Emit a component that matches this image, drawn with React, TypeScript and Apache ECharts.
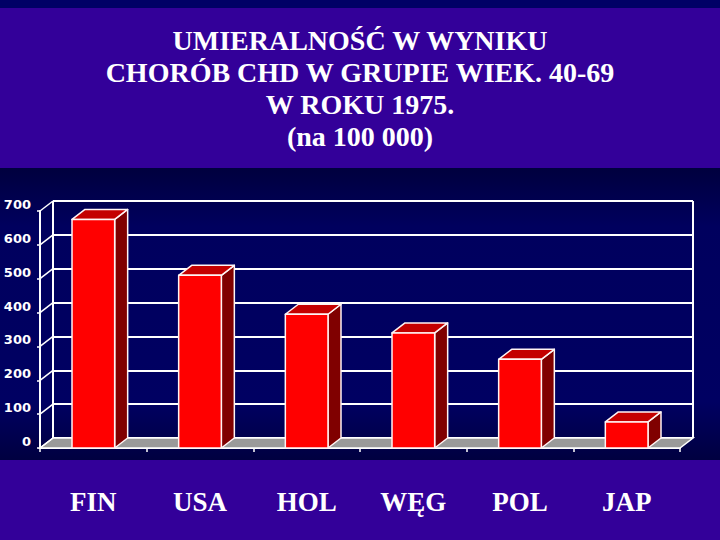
import React, { useEffect, useRef } from 'react';
import * as echarts from 'echarts';

const titleLines = ['UMIERALNOŚĆ W WYNIKU', 'CHORÓB CHD W GRUPIE WIEK. 40-69', 'W ROKU 1975.', '(na 100 000)'];
const categories = ['FIN', 'USA', 'HOL', 'WĘG', 'POL', 'JAP'];
const values = [675, 510, 395, 340, 262, 77];
const yTicks = [0, 100, 200, 300, 400, 500, 600, 700];

const DX = 13;
const DY = 10;

export default function App() {
  const ref = useRef<HTMLDivElement>(null);
  useEffect(() => {
    document.body.style.margin = '0';
    const chart = echarts.init(ref.current as HTMLDivElement, null, { renderer: 'svg' });
    const white = '#ffffff';
    const option: any = {
      animation: false,
      backgroundColor: '#330099',
      graphic: [
        { type: 'rect', z: -10, silent: true, shape: { x: 0, y: 0, width: 720, height: 8 }, style: { fill: '#000066' } },
        {
          type: 'rect', z: -10, silent: true,
          shape: { x: 0, y: 168, width: 720, height: 292 },
          style: {
            fill: new echarts.graphic.LinearGradient(0, 0, 0, 1, [
              { offset: 0, color: '#00003e' },
              { offset: 0.2, color: '#00005e' },
              { offset: 0.8, color: '#000062' },
              { offset: 1, color: '#000040' },
            ]),
          },
        },
        {
          type: 'text', z: 10, x: 360, y: 24,
          style: {
            text: titleLines.join('\n'),
            fill: white,
            font: 'bold 28px "Liberation Serif"',
            lineHeight: 32,
            align: 'center',
            verticalAlign: 'top',
          },
        },
      ],
      grid: [
        { left: 53, right: 27, top: 201, bottom: 102 },
        { left: 40, right: 40, top: 211, bottom: 92 },
      ],
      xAxis: [
        { gridIndex: 0, type: 'category', data: categories, show: false },
        {
          gridIndex: 1, type: 'category', data: categories,
          axisLine: { show: true, lineStyle: { color: white, width: 2 } },
          axisTick: { show: true, length: 4, lineStyle: { color: white, width: 1.5 } },
          axisLabel: {
            color: white, fontFamily: 'Liberation Serif', fontWeight: 'bold', fontSize: 27,
            margin: 54, verticalAlign: 'middle',
          },
        },
      ],
      yAxis: [
        {
          gridIndex: 0, type: 'value', min: 0, max: 700, interval: 100,
          axisLabel: { show: false }, axisLine: { show: false }, axisTick: { show: false },
          splitLine: { show: true, lineStyle: { color: white, width: 2 } },
        },
        {
          gridIndex: 1, type: 'value', min: 0, max: 700, interval: 100,
          axisLine: { show: true, lineStyle: { color: white, width: 2 } },
          axisTick: { show: true, length: 3, lineStyle: { color: white, width: 1.5 } },
          splitLine: { show: false },
          axisLabel: {
            color: white, fontFamily: 'DejaVu Sans', fontWeight: 'bold', fontSize: 13,
            margin: 9, verticalAlign: 'bottom', lineHeight: 13,
          },
        },
      ],
      series: [
        {
          type: 'custom', name: 'frame', xAxisIndex: 1, yAxisIndex: 1, z: 1, silent: true,
          data: [[0, 0]],
          renderItem: (params: any, api: any) => {
            const cs = params.coordSys;
            const x0 = cs.x, x1 = cs.x + cs.width, yt = cs.y, yb = cs.y + cs.height;
            const children: any[] = [];
            children.push({
              type: 'polygon',
              shape: { points: [[x0, yb], [x0 + DX, yb - DY], [x1 + DX, yb - DY], [x1, yb]] },
              style: { fill: '#9a9a9a', stroke: white, lineWidth: 1.5 },
            });
            yTicks.forEach((t) => {
              const p = api.coord([0, t]);
              children.push({
                type: 'line',
                shape: { x1: x0, y1: p[1], x2: x0 + DX, y2: p[1] - DY },
                style: { stroke: white, lineWidth: 1.5 },
              });
            });
            children.push({ type: 'line', shape: { x1: x0 + DX, y1: yt - DY, x2: x0 + DX, y2: yb - DY }, style: { stroke: white, lineWidth: 2 } });
            children.push({ type: 'line', shape: { x1: x1 + DX, y1: yt - DY, x2: x1 + DX, y2: yb - DY }, style: { stroke: white, lineWidth: 2 } });
            return { type: 'group', children };
          },
        },
        {
          type: 'custom', name: 'bars', xAxisIndex: 1, yAxisIndex: 1, z: 3,
          data: values.map((v, i) => [i, v]),
          renderItem: (params: any, api: any) => {
            const i = api.value(0);
            const v = api.value(1);
            const base = api.coord([i, 0]);
            const top = api.coord([i, v]);
            const bw = api.size([1, 0])[0] * 0.4;
            const l = base[0] - bw / 2;
            const r = l + bw;
            const t = top[1];
            const b = base[1];
            const st = { stroke: '#fff4f4', lineWidth: 1.5, lineJoin: 'round' };
            return {
              type: 'group',
              children: [
                { type: 'polygon', shape: { points: [[r, b], [r, t], [r + DX, t - DY], [r + DX, b - DY]] }, style: { ...st, fill: '#800000' } },
                { type: 'polygon', shape: { points: [[l, t], [l + DX, t - DY], [r + DX, t - DY], [r, t]] }, style: { ...st, fill: '#c40000' } },
                { type: 'rect', shape: { x: l, y: t, width: bw, height: b - t }, style: { ...st, fill: '#ff0000' } },
              ],
            };
          },
        },
      ],
    };
    chart.setOption(option);
    return () => chart.dispose();
  }, []);
  return <div ref={ref} style={{ width: 720, height: 540 }} />;
}
